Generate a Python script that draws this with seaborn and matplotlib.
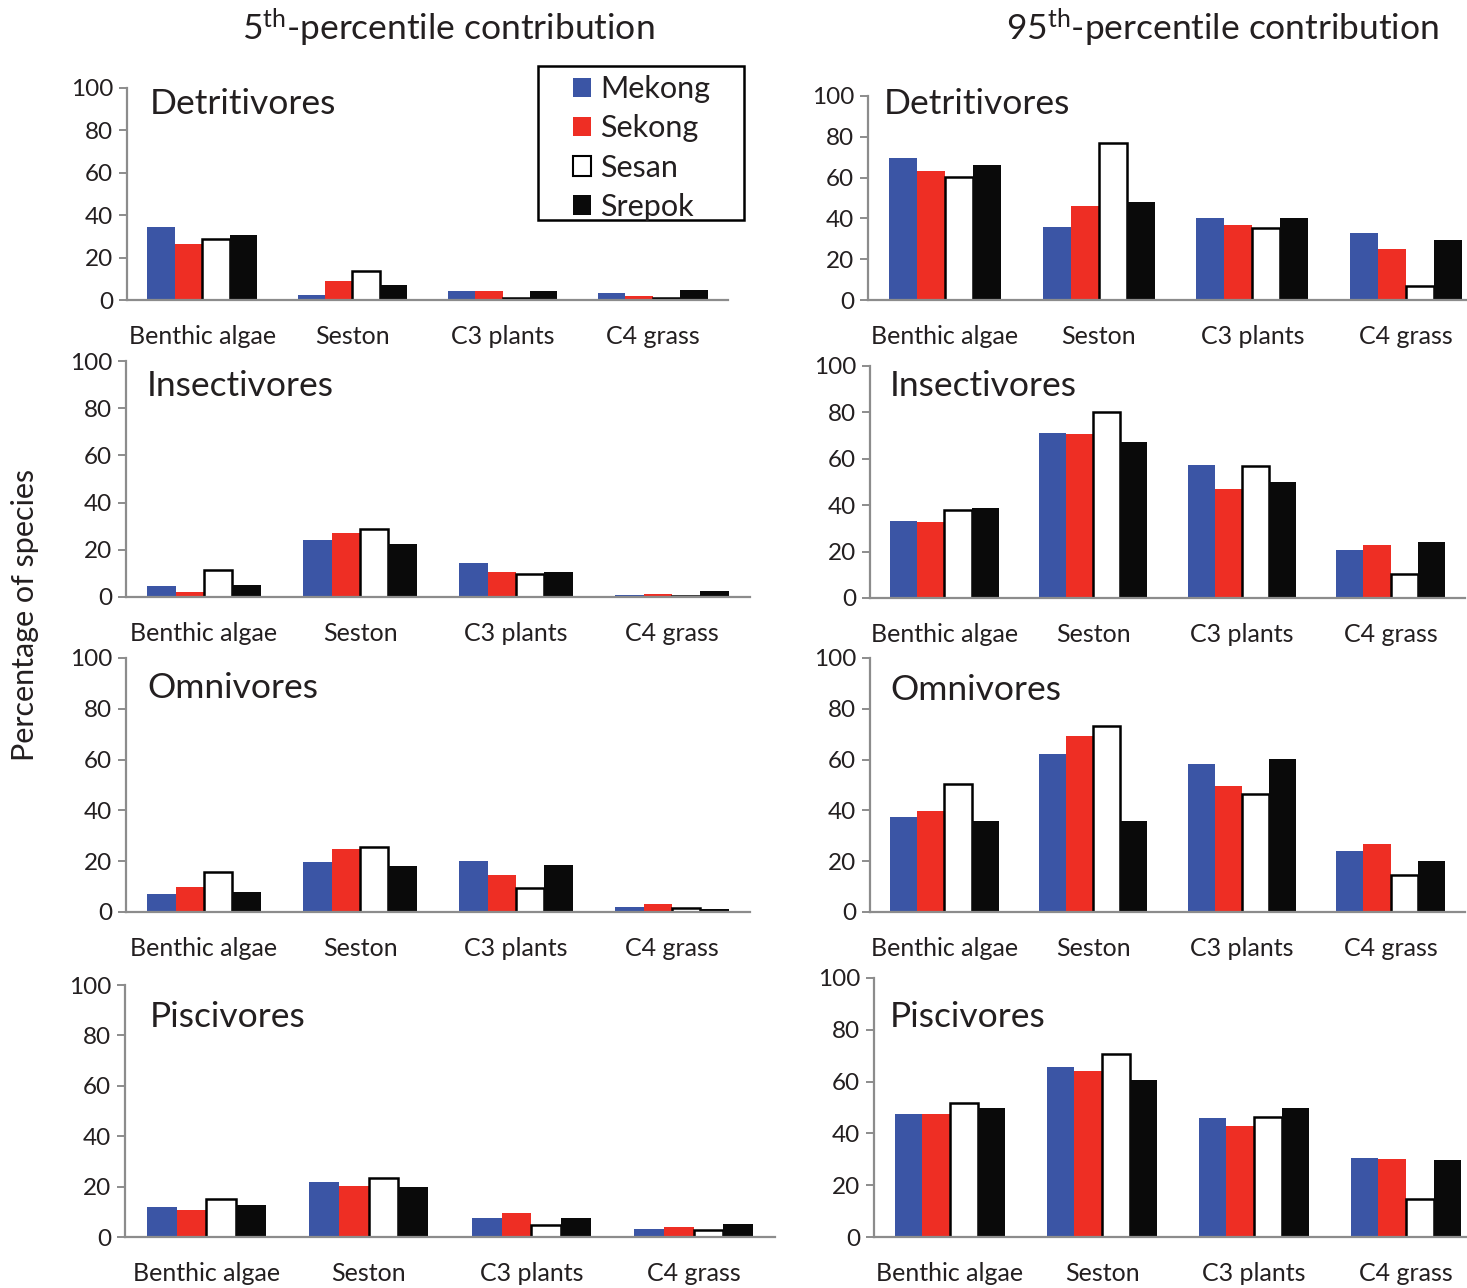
import matplotlib
matplotlib.use("Agg")
import matplotlib.pyplot as plt
import seaborn as sns
import pandas as pd
from matplotlib.patches import Rectangle, Patch

# ---------------- data ----------------
categories = ["Benthic algae", "Seston", "C3 plants", "C4 grass"]
rivers = ["Mekong", "Sekong", "Sesan", "Srepok"]
guilds = ["Detritivores", "Insectivores", "Omnivores", "Piscivores"]
river_colors = ["#3B55A5", "#EE2E24", "#FFFFFF", "#0A0A0A"]

# rows = rivers (Mekong, Sekong, Sesan, Srepok), columns = categories
det_p5 = [[34.4, 2.3, 4.2, 3.3], [26.6, 9.0, 4.2, 1.7], [28.9, 13.9, 0.8, 0.8], [30.5, 7.3, 4.4, 4.7]]
ins_p5 = [[4.6, 24.3, 14.4, 0.7], [2.0, 27.1, 10.4, 1.1], [11.4, 28.8, 9.7, 0.4], [5.2, 22.4, 10.4, 2.5]]
omn_p5 = [[7.2, 19.7, 20.1, 2.1], [9.7, 24.8, 14.5, 3.1], [15.6, 25.5, 9.3, 1.4], [8.0, 18.0, 18.6, 1.0]]
pis_p5 = [[11.9, 21.8, 7.5, 3.3], [10.9, 20.4, 9.5, 4.1], [15.2, 23.4, 4.7, 2.6], [12.8, 19.9, 7.4, 5.3]]

det_p95 = [[69.4, 35.6, 40.0, 33.0], [63.1, 46.2, 36.9, 25.2], [60.2, 77.2, 35.3, 6.8], [66.2, 48.0, 40.3, 29.3]]
ins_p95 = [[33.2, 71.1, 57.5, 20.5], [32.6, 70.5, 47.1, 22.7], [37.9, 80.0, 56.9, 10.2], [38.8, 67.1, 50.1, 24.0]]
omn_p95 = [[37.4, 62.4, 58.4, 24.1], [39.6, 69.3, 49.7, 26.8], [50.3, 73.1, 46.4, 14.6], [35.8, 35.8, 60.1, 20.0]]
pis_p95 = [[47.3, 65.6, 45.8, 30.6], [47.3, 63.9, 43.0, 30.1], [51.9, 70.6, 46.2, 14.8], [50.0, 60.7, 49.7, 29.8]]

panels_p5 = [det_p5, ins_p5, omn_p5, pis_p5]
panels_p95 = [det_p95, ins_p95, omn_p95, pis_p95]

# ---------------- style ----------------
sns.set_theme(style="white")
plt.rcParams["font.family"] = ["Lato", "DejaVu Sans"]
plt.rcParams["mathtext.fontset"] = "custom"
plt.rcParams["mathtext.rm"] = "Lato"
plt.rcParams["mathtext.it"] = "Lato:italic"
plt.rcParams["mathtext.bf"] = "Lato:bold"

W, H = 1467, 1288
fig = plt.figure(figsize=(W / 100, H / 100), dpi=100)

TXT = "#231F20"
SPINE = "#8C8C8C"

# axes pixel boxes: (left, right, top(100), bottom(0))
left_boxes = [(127, 728, 88, 300), (126, 750, 361, 597), (126, 750, 658, 912), (125, 775, 985, 1237)]
right_boxes = [(868, 1483, 96, 300), (870, 1465, 366, 598), (870, 1465, 658, 912), (874, 1482, 978, 1237)]
title_pos_left = [(150, 104), (147, 386), (147, 688), (150, 1017)]
title_pos_right = [(884, 104), (890, 386), (890, 690), (890, 1017)]


def make_panel(box, values, guild, tpos):
    l, r, t, b = box
    ax = fig.add_axes([l / W, 1 - b / H, (r - l) / W, (b - t) / H])
    rows = []
    for ri, river in enumerate(rivers):
        for ci, cat in enumerate(categories):
            rows.append({"source": cat, "river": river, "pct": values[ri][ci]})
    df = pd.DataFrame(rows)
    sns.barplot(data=df, x="source", y="pct", hue="river", order=categories,
                hue_order=rivers, palette=river_colors, width=0.73, saturation=1,
                ax=ax, legend=False, linewidth=0, errorbar=None)
    # outline for the white (Sesan) bars
    for bar in ax.containers[2]:
        bar.set_edgecolor("black")
        bar.set_linewidth(1.8)
    ax.set_ylim(0, 100)
    ax.set_xlim(-0.5, 3.5)
    ax.set_yticks(range(0, 101, 20))
    ax.set_xlabel("")
    ax.set_ylabel("")
    for s in ["top", "right"]:
        ax.spines[s].set_visible(False)
    for s in ["left", "bottom"]:
        ax.spines[s].set_color(SPINE)
        ax.spines[s].set_linewidth(1.6)
    ax.tick_params(axis="y", left=True, length=6, width=1.4, color=SPINE,
                   labelsize=17.5, labelcolor=TXT, pad=4)
    ax.tick_params(axis="x", bottom=False, length=0, labelsize=18,
                   labelcolor=TXT, pad=18)
    ax.set_facecolor("none")
    fig.text(tpos[0] / W, 1 - tpos[1] / H, guild, fontsize=25.5, color=TXT,
             ha="left", va="center")
    return ax


for i in range(4):
    make_panel(left_boxes[i], panels_p5[i], guilds[i], title_pos_left[i])
    make_panel(right_boxes[i], panels_p95[i], guilds[i], title_pos_right[i])

# column titles
fig.text(448 / W, 1 - 28 / H, r"5$^{\mathrm{th}}$-percentile contribution",
         fontsize=25.5, color=TXT, ha="center", va="center")
fig.text(1223 / W, 1 - 28 / H, r"95$^{\mathrm{th}}$-percentile contribution",
         fontsize=25.5, color=TXT, ha="center", va="center")

# y label
fig.text(25 / W, 1 - 615 / H, "Percentage of species", fontsize=22, color=TXT,
         rotation=90, ha="center", va="center")

# legend
handles = [Patch(facecolor=c, edgecolor=("black" if c == "#FFFFFF" else c),
                 linewidth=(1.5 if c == "#FFFFFF" else 0)) for c in river_colors]
leg = fig.legend(handles, rivers, loc="upper left",
                 bbox_to_anchor=(573 / W, 1 - 75 / H), frameon=False,
                 fontsize=22, handlelength=0.6, handleheight=0.6,
                 handletextpad=0.3, labelspacing=0.37, borderpad=0,
                 borderaxespad=0)
for t in leg.get_texts():
    t.set_color(TXT)
fig.patches.append(Rectangle((538 / W, 1 - 220 / H), 206 / W, 154 / H,
                             transform=fig.transFigure, fill=False,
                             edgecolor="black", linewidth=1.8))

fig.savefig("out.png", dpi=100)
